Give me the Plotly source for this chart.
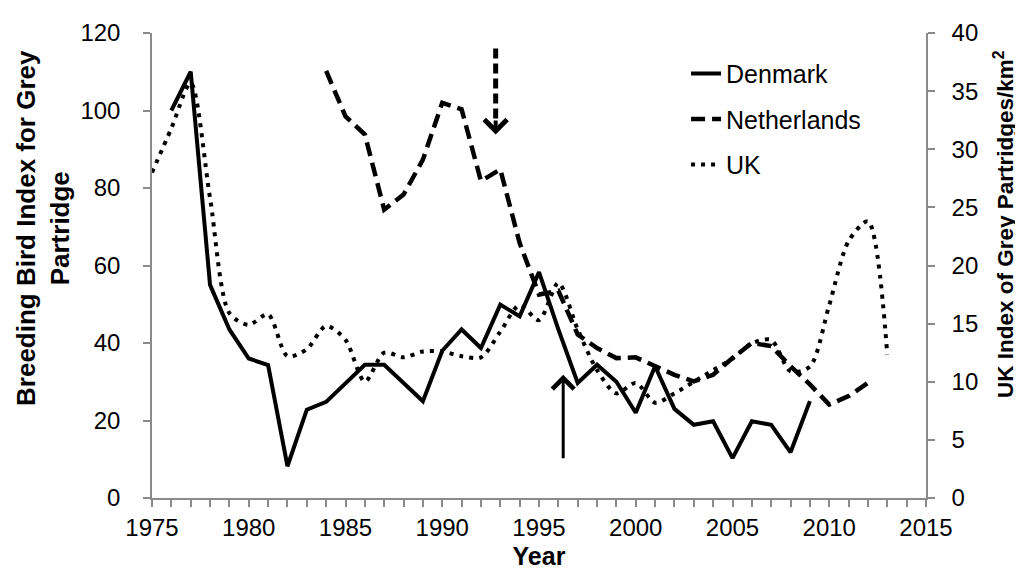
import plotly.graph_objects as go

# ---- data ----
dk_years = list(range(1976, 2010))
dk_index = [100, 110, 55, 43.5, 36, 34.3, 8.2, 22.8, 24.8, 29.5,
            34.4, 34.4, 29.7, 25, 38, 43.5, 38.7, 49.9, 46.9, 58.3,
            43.5, 29.7, 34.4, 30, 22, 34, 23, 18.9, 19.8, 10.3,
            19.8, 18.9, 11.8, 25]

nl_years = list(range(1984, 2013))
nl_index = [110.2, 98.5, 93.8, 74.4, 78.3, 87.3, 102, 100.3, 81.8, 84.8,
            65.8, 52.5, 53.5, 42.2, 38.7, 36.1, 36.3, 34, 31.8, 30.1,
            31.8, 36.1, 40, 39.2, 34, 29.3, 24.1, 26.3, 29.7]

uk_years = list(range(1975, 2014))
uk_density = [28, 31.8, 35.7, 25.8, 15.9, 14.9, 15.8, 12.2, 12.8, 14.8,
              13.6, 10.0, 12.5, 12.1, 12.6, 12.6, 12.2, 12.1, 14.3, 16.6,
              15.3, 18.5, 14.5, 11.0, 9.0, 9.9, 8.2, 9.0, 10.0, 11.0,
              12.0, 13.3, 13.6, 10.9, 11.3, 16.6, 22.1, 23.8, 12.3]

series_names = ["Denmark", "Netherlands", "UK"]

# arrows (year, index values)
down_arrow = {"x": 1992.76, "y_start": 116.0, "y_tip": 93.8}
up_arrow = {"x": 1996.25, "y_start": 9.9, "y_tip": 31.8}

FONT = "Liberation Sans, Arial, sans-serif"
AXIS_GREY = "#8a8a8a"

fig = go.Figure()
fig.add_trace(go.Scatter(x=dk_years, y=dk_index, name=series_names[0], mode="lines",
                         line=dict(color="black", width=4), legendgroup="a"))
fig.add_trace(go.Scatter(x=nl_years, y=nl_index, name=series_names[1], mode="lines",
                         line=dict(color="black", width=4.5, dash="14px,7px"), legendgroup="b"))
fig.add_trace(go.Scatter(x=uk_years, y=uk_density, name=series_names[2], mode="lines",
                         line=dict(color="black", width=4, dash="4px,6px", shape="spline", smoothing=0.8),
                         yaxis="y2", legendgroup="c"))

# dashed arrow shaft
fig.add_shape(type="line", xref="x", yref="y",
              x0=down_arrow["x"], x1=down_arrow["x"],
              y0=down_arrow["y_start"], y1=down_arrow["y_tip"] + 3,
              line=dict(color="black", width=5, dash="10px,5px"))
fig.add_annotation(x=down_arrow["x"], y=down_arrow["y_tip"], xref="x", yref="y",
                   ax=down_arrow["x"], ay=down_arrow["y_tip"] + 4, axref="x", ayref="y",
                   showarrow=True, arrowhead=4, arrowwidth=4, arrowsize=1.1, arrowcolor="black", text="")
fig.add_annotation(x=up_arrow["x"], y=up_arrow["y_tip"], xref="x", yref="y",
                   ax=up_arrow["x"], ay=up_arrow["y_start"], axref="x", ayref="y",
                   showarrow=True, arrowhead=4, arrowwidth=3, arrowsize=1.4, arrowcolor="black", text="")

# y-axis titles, placed as annotations to match position
fig.add_annotation(text="<b>Breeding Bird Index for Grey<br>Partridge</b>",
                   xref="paper", yref="paper", x=-0.14, y=0.58,
                   xanchor="center", yanchor="middle", textangle=-90, showarrow=False,
                   font=dict(family=FONT, size=26, color="black"), align="center")
fig.add_annotation(text="<b>UK Index of Grey Partridges/km<sup>2</sup></b>",
                   xref="paper", yref="paper", x=1.1, y=0.59,
                   xanchor="center", yanchor="middle", textangle=-90, showarrow=False,
                   font=dict(family=FONT, size=22.5, color="black"))

fig.update_layout(
    width=1023, height=572,
    margin=dict(l=144, r=105, t=25, b=82),
    paper_bgcolor="white", plot_bgcolor="white",
    font=dict(family=FONT, size=24, color="black"),
    showlegend=True,
    legend=dict(x=0.69, y=0.962, xanchor="left", yanchor="top",
                font=dict(family=FONT, size=25, color="black"),
                tracegroupgap=10, traceorder="grouped",
                bgcolor="rgba(0,0,0,0)"),
    xaxis=dict(range=[1975, 2015], dtick=5, tick0=1975, showgrid=False, zeroline=False,
               showline=True, linecolor=AXIS_GREY, linewidth=1.5,
               ticks="outside", ticklen=7, tickcolor=AXIS_GREY, tickwidth=1.5,
               minor=dict(dtick=1, ticks="outside", ticklen=7, tickcolor=AXIS_GREY, tickwidth=1.5),
               tickfont=dict(size=24),
               title=dict(text="<b>Year</b>", font=dict(size=25), standoff=8)),
    yaxis=dict(range=[0, 120], dtick=20, showgrid=False, zeroline=False,
               showline=True, linecolor=AXIS_GREY, linewidth=1.5,
               ticks="outside", ticklen=7, tickcolor=AXIS_GREY, tickwidth=1.5,
               tickfont=dict(size=24), ticklabelstandoff=18),
    yaxis2=dict(range=[0, 40], dtick=5, overlaying="y", side="right",
                showgrid=False, zeroline=False,
                showline=True, linecolor=AXIS_GREY, linewidth=1.5,
                ticks="outside", ticklen=7, tickcolor=AXIS_GREY, tickwidth=1.5,
                tickfont=dict(size=24), ticklabelstandoff=12),
)

fig.write_html("out.html")
